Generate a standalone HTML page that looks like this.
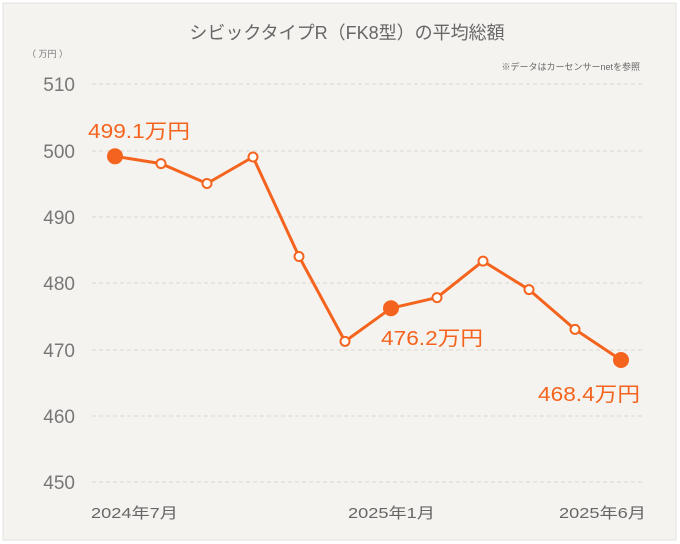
<!DOCTYPE html>
<html><head><meta charset="utf-8"><style>
body{margin:0;background:#fff;}
svg{display:block;font-family:"Liberation Sans","Noto Sans CJK JP",sans-serif;}
</style></head><body>
<svg width="680" height="544" viewBox="0 0 680 544">
<rect x="3" y="3" width="673" height="537" fill="#f5f3ef" stroke="#e4e2dd" stroke-width="1"/>
<text x="347" y="39" text-anchor="middle" font-size="18" fill="#666">シビックタイプR（FK8型）の平均総額</text>
<text x="27" y="57" font-size="9" fill="#777">（ 万円 ）</text>
<text x="640" y="70" text-anchor="end" font-size="9" fill="#666">※データはカーセンサーnetを参照</text>
<g stroke="#d9d7d2" stroke-dasharray="4,3" stroke-width="1">
<line x1="92" x2="643" y1="84" y2="84"/><line x1="92" x2="643" y1="151" y2="151"/>
<line x1="92" x2="643" y1="217" y2="217"/><line x1="92" x2="643" y1="283" y2="283"/>
<line x1="92" x2="643" y1="350" y2="350"/><line x1="92" x2="643" y1="416" y2="416"/>
<line x1="92" x2="643" y1="482" y2="482"/>
</g>
<g font-size="19" fill="#777" text-anchor="end">
<text x="75" y="91">510</text><text x="75" y="158">500</text><text x="75" y="224">490</text>
<text x="75" y="290">480</text><text x="75" y="357">470</text><text x="75" y="423">460</text><text x="75" y="489">450</text>
</g>
<g font-size="15" fill="#666">
<text x="91" y="518" textLength="87" lengthAdjust="spacingAndGlyphs">2024年7月</text>
<text x="348" y="518" textLength="87" lengthAdjust="spacingAndGlyphs">2025年1月</text>
<text x="559" y="518" textLength="87" lengthAdjust="spacingAndGlyphs">2025年6月</text>
</g>
<polyline fill="none" stroke="#f4641e" stroke-width="3" stroke-linejoin="round" points="115,156.3 161,163.6 207,183.5 253,157 299,256.5 345,341.4 391,308.2 437,297.6 483,261.1 529,289.6 575,329.4 621,360"/>
<g fill="#fff" stroke="#f4641e" stroke-width="2">
<circle cx="161" cy="163.6" r="4.5"/><circle cx="207" cy="183.5" r="4.5"/><circle cx="253" cy="157" r="4.5"/>
<circle cx="299" cy="256.5" r="4.5"/><circle cx="345" cy="341.4" r="4.5"/><circle cx="437" cy="297.6" r="4.5"/>
<circle cx="483" cy="261.1" r="4.5"/><circle cx="529" cy="289.6" r="4.5"/><circle cx="575" cy="329.4" r="4.5"/>
</g>
<g fill="#f4641e">
<circle cx="115" cy="156.3" r="8"/><circle cx="391" cy="308.2" r="8"/><circle cx="621" cy="360" r="8"/>
</g>
<g font-size="20" fill="#f4641e">
<text x="88" y="138" textLength="102" lengthAdjust="spacingAndGlyphs">499.1万円</text>
<text x="381" y="345" textLength="102" lengthAdjust="spacingAndGlyphs">476.2万円</text>
<text x="538" y="401" textLength="102" lengthAdjust="spacingAndGlyphs">468.4万円</text>
</g>
</svg>
</body></html>
